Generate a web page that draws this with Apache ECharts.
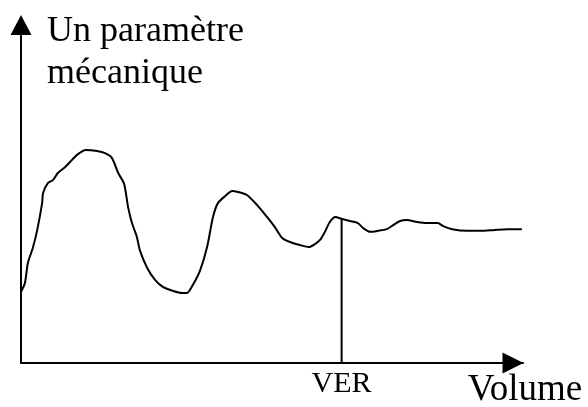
<!DOCTYPE html>
<html>
<head>
<meta charset="utf-8">
<script src="https://cdn.jsdelivr.net/npm/echarts@6/dist/echarts.min.js"></script>
<style>
html,body{margin:0;padding:0;background:#fff;}
#chart{width:588px;height:407px;}
</style>
</head>
<body>
<div id="chart"></div>
<script>
// Volume (x, arbitrary units) and mechanical parameter (y, arbitrary units)
var volume = [0, 0.8, 1.4, 2.4, 3.3, 4.3, 4.5, 5.5, 6.5, 7.5, 9.0, 10.4, 11.6, 13.2, 15.5, 17.1, 18.5, 19.8, 21.0, 21.8, 22.6, 23.6, 24.2, 25.7, 27.3, 28.9, 31.0, 32.8, 33.8, 35.0, 36.5, 37.9, 39.1, 40.1, 41.6, 43.0, 44.2, 46.0, 48.1, 50.1, 51.7, 53.2, 54.8, 56.8, 58.7, 59.9, 60.9, 61.9, 62.9, 64.0, 65.4, 67.0, 68.6, 69.7, 71.1, 72.7, 74.5, 75.8, 77.2, 78.6, 80.7, 82.7, 84.9, 86.0, 87.8, 90.8, 93.5, 96.1, 99.0, 102.0];
var parametre = [21.1, 23.7, 29.6, 34.0, 39.3, 47.3, 50.3, 53.3, 54.1, 56.2, 58.0, 60.1, 61.8, 63.0, 62.7, 62.1, 60.7, 56.2, 53.0, 46.2, 41.4, 37.3, 33.4, 28.1, 24.6, 22.5, 21.3, 20.7, 20.7, 23.1, 27.5, 34.3, 43.2, 47.3, 49.4, 50.9, 50.6, 49.7, 46.7, 43.2, 40.2, 37.0, 35.8, 34.9, 34.3, 35.2, 36.4, 38.8, 41.7, 43.2, 42.6, 42.0, 41.4, 39.9, 38.8, 39.1, 39.6, 40.8, 42.0, 42.3, 41.7, 41.4, 41.4, 40.5, 39.6, 39.1, 39.1, 39.3, 39.6, 39.6];
// VER marker
var verLabel = 'VER';
var verVolume = 65.3;
var verParam = 42.6;
var xName = 'Volume';
var yName = 'Un paramètre\nmécanique';

var curve = volume.map(function (v, i) { return [v, parametre[i]]; });
var verLine = [[verVolume, 0], [verVolume, verParam]];

var serif = "'Liberation Serif', 'Times New Roman', serif";
var chart = echarts.init(document.getElementById('chart'), null, {renderer: 'canvas'});
chart.setOption({
  animation: false,
  backgroundColor: '#ffffff',
  grid: {left: 21, right: 65, top: 25, bottom: 44, containLabel: false, outerBoundsMode: 'none'},
  xAxis: {
    type: 'value', min: 0, max: 102.24,
    name: xName, nameLocation: 'end', nameGap: 2, nameMoveOverlap: false,
    nameTextStyle: {fontFamily: serif, fontSize: 37, color: '#000', align: 'center', verticalAlign: 'top', padding: [9, 0, 0, 0]},
    axisLine: {show: true, onZero: false, symbol: ['none', 'triangle'], symbolSize: [21, 21], symbolOffset: [0, -10], lineStyle: {color: '#000', width: 2}},
    axisTick: {show: false},
    splitLine: {show: false},
    axisLabel: {
      show: true, customValues: [verVolume], margin: 6,
      formatter: function () { return verLabel; },
      fontFamily: serif, fontSize: 30, color: '#000'
    }
  },
  yAxis: {
    type: 'value', min: 0, max: 100,
    name: yName, nameLocation: 'end', nameGap: 14, nameMoveOverlap: false,
    nameTextStyle: {fontFamily: serif, fontSize: 36, color: '#000', align: 'left', verticalAlign: 'top', lineHeight: 42, padding: [0, 0, 0, 26]},
    axisLine: {show: true, onZero: false, symbol: ['none', 'triangle'], symbolSize: [21, 20], lineStyle: {color: '#000', width: 2}},
    axisTick: {show: false},
    splitLine: {show: false},
    axisLabel: {show: false}
  },
  series: [
    {type: 'line', data: curve, showSymbol: false, smooth: 0.25, clip: false,
     lineStyle: {color: '#000', width: 2}},
    {type: 'line', data: verLine, showSymbol: false, clip: false,
     lineStyle: {color: '#000', width: 2}}
  ]
});
</script>
</body>
</html>
